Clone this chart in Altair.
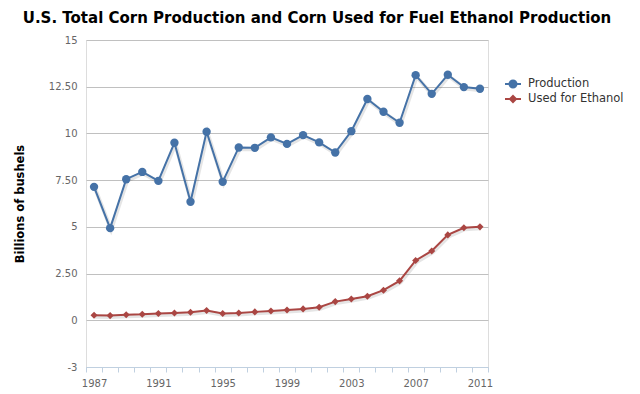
import altair as alt
import pandas as pd

years = list(range(1987, 2012))
production = [7.14, 4.93, 7.55, 7.94, 7.46, 9.50, 6.34, 10.09, 7.41, 9.25, 9.23, 9.79,
              9.44, 9.91, 9.52, 8.98, 10.12, 11.84, 11.16, 10.57, 13.12, 12.12, 13.14,
              12.48, 12.39]
ethanol = [0.27, 0.25, 0.30, 0.32, 0.36, 0.39, 0.43, 0.52, 0.36, 0.39, 0.45, 0.50,
           0.55, 0.61, 0.70, 1.00, 1.14, 1.29, 1.61, 2.11, 3.20, 3.71, 4.57, 4.95, 5.00]
series_names = ["Production", "Used for Ethanol"]
colors = ["#4572A7", "#AA4643"]
x_tick_values = [y - 0.5 for y in years] + [2011.5]
x_label_values = list(range(1987, 2012, 4))
y_values = [-2.5, 0, 2.5, 5, 7.5, 10, 12.5, 15]

df = pd.DataFrame({
    "year": years * 2,
    "value": production + ethanol,
    "series": [series_names[0]] * len(years) + [series_names[1]] * len(years),
})

FONT = "DejaVu Sans"
xscale = alt.Scale(domain=[1986.5, 2011.5], nice=False, zero=False)
yscale = alt.Scale(domain=[-2.5, 15], nice=False, zero=False)
cscale = alt.Scale(domain=series_names, range=colors)

y_axis = alt.Axis(
    values=y_values,
    labelExpr="datum.value == -2.5 ? '-3' : (datum.value % 5 == 0 ? format(datum.value, 'd') : format(datum.value, '.2f'))",
    grid=True, gridColor="#C0C0C0", gridWidth=1,
    domain=False, ticks=False,
    labelColor="#666666", labelFont=FONT, labelFontSize=10, labelPadding=9,
    title="Billions of bushels", titleFont=FONT, titleFontSize=11.5, titleFontWeight="bold",
    titleColor="#000000", titleX=-66, titleBaseline="middle", titleAngle=270,
)
x_tick_axis = alt.Axis(
    values=x_tick_values, labels=False, grid=False, title=None, orient="bottom",
    domainColor="#C0D0E0", domainWidth=1, tickColor="#C0D0E0", tickSize=5, tickWidth=1,
)
x_label_axis = alt.Axis(
    values=x_label_values, ticks=False, domain=False, grid=False, title=None, orient="bottom",
    labelColor="#666666", labelFont=FONT, labelFontSize=10, labelPadding=11, format="d",
)

base = alt.Chart(df)

shadow = base.mark_line(strokeWidth=4, opacity=0.10, color="#000000", xOffset=1, yOffset=1.5).encode(
    x=alt.X("year:Q", scale=xscale, axis=x_tick_axis),
    y=alt.Y("value:Q", scale=yscale, axis=y_axis),
    detail="series:N",
)

lines = base.mark_line(strokeWidth=2).encode(
    x=alt.X("year:Q", scale=xscale, axis=x_label_axis),
    y=alt.Y("value:Q", scale=yscale, axis=y_axis),
    color=alt.Color("series:N", scale=cscale, legend=None),
)

points_circle = base.mark_point(filled=True, opacity=1, shape="circle", size=70).encode(
    x=alt.X("year:Q", scale=xscale, axis=None),
    y=alt.Y("value:Q", scale=yscale, axis=y_axis),
    color=alt.Color("series:N", scale=cscale, legend=None),
).transform_filter(alt.datum.series == series_names[0])

points_diamond = base.mark_point(filled=True, opacity=1, shape="diamond", size=50).encode(
    x=alt.X("year:Q", scale=xscale, axis=None),
    y=alt.Y("value:Q", scale=yscale, axis=y_axis),
    color=alt.Color("series:N", scale=cscale, legend=None),
).transform_filter(alt.datum.series == series_names[1])

circle_path = ("M-1.6,0L1.6,0"
               "M-0.7,0A0.7,0.7 0 1,0 0.7,0A0.7,0.7 0 1,0 -0.7,0"
               "M-0.35,0A0.35,0.35 0 1,0 0.35,0A0.35,0.35 0 1,0 -0.35,0"
               "M-0.1,0A0.1,0.1 0 1,0 0.1,0A0.1,0.1 0 1,0 -0.1,0")
diamond_path = ("M-1.6,0L1.6,0"
                "M0,-0.6L0.6,0L0,0.6L-0.6,0Z"
                "M0,-0.25L0.25,0L0,0.25L-0.25,0Z")
leg = alt.Legend(
    title=None, orient="none", legendX=421, legendY=38,
    labelFont=FONT, labelFontSize=11.5, labelColor="#333333", labelOffset=9,
    symbolSize=100, symbolStrokeWidth=2, symbolOpacity=1, rowPadding=0,
)
legend_layer = base.mark_point(filled=False, opacity=0).encode(
    x=alt.X("year:Q", scale=xscale, axis=None),
    y=alt.Y("value:Q", scale=yscale, axis=y_axis),
    color=alt.Color("series:N", scale=cscale, legend=leg),
    shape=alt.Shape("series:N", scale=alt.Scale(domain=series_names, range=[circle_path, diamond_path]), legend=leg),
)

chart = alt.layer(shadow, lines, points_circle, points_diamond, legend_layer).resolve_axis(
    x="independent"
).resolve_scale(
    shape="independent"
).resolve_legend(
    color="independent", shape="independent"
).properties(
    width=402, height=327,
    padding={"left": 78, "top": 32, "right": 136, "bottom": 21},
    autosize=alt.AutoSizeParams(type="none"),
    title=alt.Title(
        "U.S. Total Corn Production and Corn Used for Fuel Ethanol Production",
        font=FONT, fontSize=15, fontWeight="bold", color="#000000",
        anchor="middle", dx=30, offset=9,
    ),
).configure_view(stroke=None).configure(background="white")

chart.save("out.html", embed_options={"renderer": "svg", "actions": False})
